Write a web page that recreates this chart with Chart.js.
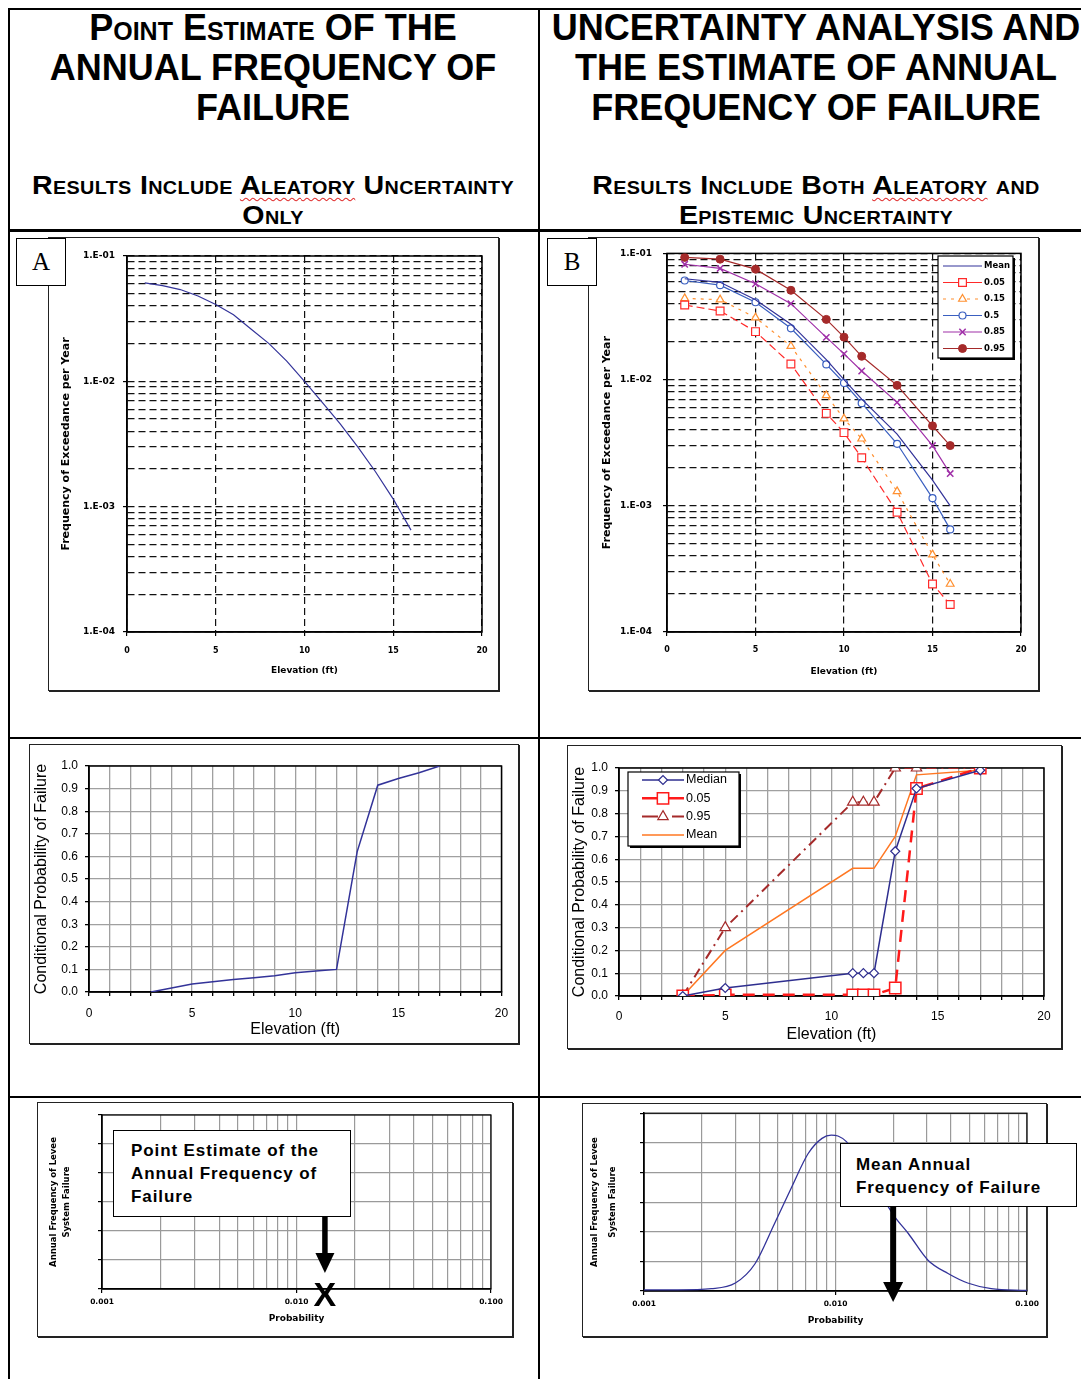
<!DOCTYPE html>
<html>
<head>
<meta charset="utf-8">
<script src="https://cdn.jsdelivr.net/npm/chart.js@4.4.1/dist/chart.umd.min.js"></script>
<style>
  html, body { margin: 0; padding: 0; background: #fff; }
  body { position: relative; width: 1081px; height: 1379px; overflow: hidden; font-family: "Liberation Sans", Arial, sans-serif; color: #000; }
  .rule { position: absolute; background: #000; }
  .head { position: absolute; text-align: center; font-weight: bold; white-space: nowrap; }
  .big { top: 8px; font-size: 36px; line-height: 40px; letter-spacing: 0; }
  .sub { top: 170px; font-size: 26px; line-height: 30px; font-variant: small-caps; letter-spacing: 0.3px; transform: scaleX(1.1); transform-origin: center; }
  .sc { font-variant: small-caps; }
  .wavy { text-decoration: underline wavy #e03030; text-decoration-thickness: 1px; text-underline-offset: 3px; }
  .panel { position: absolute; box-sizing: border-box; border: 1.5px solid #222; box-shadow: 1px 1px 0 #222; }
  canvas { position: absolute; }
  .tag { position: absolute; box-sizing: border-box; width: 50px; height: 48px; border: 1.5px solid #000; background: #fff; font-family: "Liberation Serif", serif; font-size: 25px; line-height: 46px; text-align: center; }
  .note { position: absolute; box-sizing: border-box; border: 1.5px solid #000; background: #fff; font-weight: bold; font-size: 17px; line-height: 23px; white-space: nowrap; letter-spacing: 0.9px; }
</style>
</head>
<body>
<div class="rule" style="left:8px;top:8px;width:1073px;height:1.5px"></div>
<div class="rule" style="left:8px;top:8px;width:1.5px;height:1371px"></div>
<div class="rule" style="left:538px;top:8px;width:1.5px;height:1371px"></div>
<div class="rule" style="left:8px;top:229px;width:1073px;height:2.5px"></div>
<div class="rule" style="left:8px;top:737px;width:1073px;height:1.5px"></div>
<div class="rule" style="left:8px;top:1096px;width:1073px;height:1.5px"></div>

<div class="head big" style="left:8px;width:530px"><span class="sc">Point Estimate</span> OF THE<br>ANNUAL FREQUENCY OF<br>FAILURE</div>
<div class="head big" style="left:539px;width:554px">UNCERTAINTY ANALYSIS AND<br>THE ESTIMATE OF ANNUAL<br>FREQUENCY OF FAILURE</div>
<div class="head sub" style="left:8px;width:530px">Results Include <span class="wavy">Aleatory</span> Uncertainty<br>Only</div>
<div class="head sub" style="left:539px;width:554px">Results Include Both <span class="wavy">Aleatory</span> and<br>Epistemic Uncertainty</div>

<div class="panel" style="left:48px;top:237px;width:451px;height:454px"></div>
<canvas id="chartA" width="451" height="453" style="left:48px;top:237px"></canvas>
<div class="tag" style="left:16px;top:238px">A</div>

<div class="panel" style="left:588px;top:237px;width:451px;height:454px"></div>
<canvas id="chartB" width="451" height="453" style="left:588px;top:237px"></canvas>
<div class="tag" style="left:547px;top:238px">B</div>

<div class="panel" style="left:29px;top:744px;width:490px;height:300px"></div>
<canvas id="chartC" width="490" height="300" style="left:29px;top:744px"></canvas>

<div class="panel" style="left:567px;top:745px;width:495px;height:304px"></div>
<canvas id="chartD" width="495" height="303" style="left:567px;top:745px"></canvas>

<div class="panel" style="left:37px;top:1102px;width:476px;height:235px"></div>
<canvas id="chartE" width="476" height="235" style="left:37px;top:1102px"></canvas>
<div class="note" style="left:113px;top:1130px;width:238px;height:87px;padding:8px 0 0 17px">Point Estimate of the<br>Annual Frequency of<br>Failure</div>

<div class="panel" style="left:582px;top:1103px;width:465px;height:234px"></div>
<canvas id="chartF" width="465" height="234" style="left:582px;top:1103px"></canvas>
<div class="note" style="left:840px;top:1143px;width:237px;height:64px;padding:9px 0 0 15px">Mean Annual<br>Frequency of Failure</div>

<script>
// ---- data ----
// A: point estimate of exceedance frequency
var aElev = [1, 2, 3, 4, 5, 6, 7, 8, 9, 10, 11, 12, 13, 14, 15, 16];
var aFreq = [0.061, 0.058, 0.054, 0.048, 0.041, 0.034, 0.026, 0.020, 0.0145, 0.0100, 0.0068, 0.0046, 0.0030, 0.0019, 0.00115, 0.00065];

// B: percentiles of exceedance frequency
var bElev = [1, 3, 5, 7, 9, 10, 11, 13, 15, 16];
var bLabels = ['Mean', '0.05', '0.15', '0.5', '0.85', '0.95'];
var bMean = [0.063, 0.059, 0.043, 0.0275, 0.0144, 0.0100, 0.0070, 0.0037, 0.0016, 0.0010];
var b05 = [0.039, 0.035, 0.024, 0.0133, 0.0054, 0.0038, 0.0024, 0.00089, 0.00024, 0.000165];
var b15 = [0.044, 0.043, 0.031, 0.0184, 0.0075, 0.0049, 0.0034, 0.0013, 0.00041, 0.00024];
var b50 = [0.061, 0.056, 0.041, 0.0255, 0.0132, 0.0094, 0.0065, 0.0031, 0.00115, 0.00065];
var b85 = [0.082, 0.076, 0.0575, 0.040, 0.0216, 0.016, 0.0117, 0.0066, 0.0030, 0.0018];
var b95 = [0.093, 0.090, 0.075, 0.051, 0.030, 0.0217, 0.0153, 0.0090, 0.0043, 0.0030];

// C: fragility curve
var cElev = [3, 5, 6, 7, 8, 9, 10, 11, 12, 13, 14, 15, 16, 17];
var cProb = [0, 0.035, 0.045, 0.055, 0.063, 0.072, 0.085, 0.093, 0.10, 0.62, 0.915, 0.945, 0.97, 1.0];

// D: fragility percentiles
var dElev = [3, 5, 11, 11.5, 12, 13, 14, 17];
var dLabels = ['Median', '0.05', '0.95', 'Mean'];
var dMedian = [0, 0.035, 0.10, 0.10, 0.10, 0.635, 0.91, 0.99];
var d05 = [0, 0.005, 0.005, 0.005, 0.005, 0.035, 0.91, 1.0];
var d95 = [0, 0.30, 0.85, 0.85, 0.85, 1.0, 1.0, 1.0];
var dMean = [0, 0.20, 0.56, 0.56, 0.56, 0.70, 0.97, 0.99];

// E/F: annual frequency of levee system failure
var probTicks = [0.001, 0.01, 0.1];
var pointEstimate = 0.014;
var meanFrequency = 0.02;
var fProb = [0.001, 0.0015, 0.00225, 0.003, 0.0038, 0.0048, 0.0059, 0.0072, 0.0085, 0.0095, 0.0103, 0.0114, 0.0137, 0.0167, 0.0204, 0.024, 0.0304, 0.0387, 0.049, 0.065, 0.1];
var fDensity = [0.04, 0.04, 0.08, 0.27, 0.92, 2.27, 3.5, 4.64, 5.15, 5.26, 5.23, 5.04, 4.3, 3.4, 2.5, 1.94, 1.04, 0.59, 0.27, 0.08, 0.02];

function xy(xs, ys) {
    return xs.map(function(x, i) { return { x: x, y: ys[i] }; });
}
function isMajor(v) {
    var l = Math.log10(v);
    return Math.abs(l - Math.round(l)) < 1e-6;
}
function logTicks(min, max) {
    var out = [];
    for (var e = Math.round(Math.log10(min)); e < Math.round(Math.log10(max)); e++) {
        for (var m = 1; m < 10; m++) out.push({ value: m * Math.pow(10, e) });
    }
    out.push({ value: max });
    return out;
}

// ── plugins ──
var frame = {
    id: 'frame',
    beforeDatasetsDraw: function(chart, args, o) {
        var a = chart.chartArea, ctx = chart.ctx;
        ctx.save();
        ctx.strokeStyle = o.color || '#000';
        ctx.lineWidth = o.width || 1.5;
        ctx.strokeRect(a.left, a.top, a.right - a.left, a.bottom - a.top);
        ctx.restore();
    }
};

var keyBox = {
    id: 'keyBox',
    afterDraw: function(chart, args, o) {
        if (!o || !o.box) return;
        var ctx = chart.ctx, b = o.box;
        ctx.save();
        ctx.fillStyle = '#000';
        ctx.fillRect(b[0] + 2, b[1] + 2, b[2], b[3]);
        ctx.fillStyle = '#fff';
        ctx.fillRect(b[0], b[1], b[2], b[3]);
        ctx.strokeStyle = '#000';
        ctx.lineWidth = 1.2;
        ctx.strokeRect(b[0], b[1], b[2], b[3]);
        ctx.font = o.font;
        ctx.textBaseline = 'middle';
        ctx.textAlign = 'left';
        chart.data.datasets.forEach(function(ds, i) {
            var cy = b[1] + o.first + i * o.step;
            var x0 = b[0] + o.line[0], x1 = b[0] + o.line[1];
            ctx.strokeStyle = ds.borderColor;
            ctx.lineWidth = ds.borderWidth;
            ctx.setLineDash(ds.keyDash || []);
            ctx.beginPath(); ctx.moveTo(x0, cy); ctx.lineTo(x1, cy); ctx.stroke();
            ctx.setLineDash([]);
            if (ds.pointRadius) {
                ctx.fillStyle = ds.pointBackgroundColor;
                ctx.strokeStyle = ds.borderColor;
                ctx.lineWidth = ds.pointBorderWidth || 1;
                Chart.helpers.drawPoint(ctx, { pointStyle: ds.pointStyle, radius: ds.pointRadius, rotation: 0, borderWidth: ds.pointBorderWidth || 1 }, (x0 + x1) / 2, cy);
            }
            ctx.fillStyle = '#000';
            ctx.fillText(ds.label, b[0] + o.text, cy);
        });
        ctx.restore();
    }
};

var pointer = {
    id: 'pointer',
    afterDraw: function(chart, args, o) {
        if (!o || o.value == null) return;
        var ctx = chart.ctx;
        var x = chart.scales.x.getPixelForValue(o.value);
        ctx.save();
        ctx.fillStyle = '#000';
        ctx.fillRect(x - o.shaft / 2, o.from, o.shaft, o.to - o.head - o.from + 1);
        ctx.beginPath();
        ctx.moveTo(x - o.headWidth / 2, o.to - o.head);
        ctx.lineTo(x + o.headWidth / 2, o.to - o.head);
        ctx.lineTo(x, o.to);
        ctx.closePath();
        ctx.fill();
        if (o.mark) {
            ctx.font = o.markFont;
            ctx.textAlign = 'center';
            ctx.textBaseline = 'middle';
            ctx.fillText(o.mark, x, o.markY);
        }
        ctx.restore();
    }
};

Chart.defaults.font.family = '"Liberation Sans", Arial, sans-serif';
Chart.defaults.color = '#000';

function baseOptions(pad, scales, extra) {
    var plugins = { legend: { display: false }, tooltip: { enabled: false }, frame: { color: '#000', width: 1.5 } };
    for (var k in extra) plugins[k] = extra[k];
    return {
        responsive: false,
        animation: false,
        devicePixelRatio: 1,
        events: [],
        layout: { padding: pad },
        plugins: plugins,
        scales: scales
    };
}

// ── A / B: exceedance frequency on log axis ──
var tinyBold = function(size) { return { family: '"DejaVu Sans", sans-serif', size: size, weight: 'bold' }; };

function freqScales(o) {
    return {
        x: {
            type: 'linear', min: 0, max: 20,
            ticks: { stepSize: 5, maxRotation: 0, font: tinyBold(8), color: '#000', padding: o.xtp },
            grid: { color: '#111', lineWidth: 1.2, tickLength: 4, tickColor: '#000' },
            border: { color: '#000', width: 1.5, dash: [7, 4] },
            title: { display: true, text: 'Elevation (ft)', font: tinyBold(9), color: '#000', padding: { top: 0, bottom: o.xtb } },
            afterFit: function(s) { s.height = 50; }
        },
        y: {
            type: 'logarithmic', min: 1e-4, max: 1e-1,
            afterBuildTicks: function(s) { s.ticks = logTicks(1e-4, 1e-1); },
            ticks: {
                autoSkip: false, font: tinyBold(9), color: '#000', padding: o.ytp,
                callback: function(v) { return isMajor(v) ? '1.E-0' + (-Math.round(Math.log10(v))) : ''; }
            },
            grid: { color: '#111', lineWidth: 1.2, tickLength: 4,
                tickColor: function(c) { return c.tick && isMajor(c.tick.value) ? '#000' : 'rgba(0,0,0,0)'; } },
            border: { color: '#000', width: 1.5, dash: [7, 4] },
            title: { display: true, text: 'Frequency of Exceedance per Year', font: tinyBold(11), color: '#000', padding: { top: o.ytt, bottom: 0 } },
            afterFit: function(s) { s.width = 79; }
        }
    };
}

new Chart(document.getElementById('chartA'), {
    type: 'line',
    data: { datasets: [{ label: 'Point estimate', data: xy(aElev, aFreq), borderColor: '#333399', borderWidth: 1.2, pointRadius: 0 }] },
    options: baseOptions({ left: 0, right: 17, top: 19, bottom: 8 }, freqScales({ xtp: 10, xtb: 5.6, ytp: 8, ytt: 11.4 }), {}),
    plugins: [frame]
});

new Chart(document.getElementById('chartB'), {
    type: 'line',
    data: {
        datasets: [
            { label: bLabels[0], data: xy(bElev, bMean), borderColor: '#333399', borderWidth: 1.2, pointRadius: 0 },
            { label: bLabels[1], data: xy(bElev, b05), borderColor: '#ff2a2a', borderWidth: 1.2, borderDash: [8, 4],
              pointStyle: 'rect', pointRadius: 5.5, pointBorderWidth: 1.2, pointBackgroundColor: '#fff', pointBorderColor: '#ff2a2a' },
            { label: bLabels[2], data: xy(bElev, b15), borderColor: '#ff9030', borderWidth: 1.2, borderDash: [3, 5], keyDash: [3, 5],
              pointStyle: 'triangle', pointRadius: 4.5, pointBorderWidth: 1.2, pointBackgroundColor: '#fff', pointBorderColor: '#ff9030' },
            { label: bLabels[3], data: xy(bElev, b50), borderColor: '#3a5fc0', borderWidth: 1.2,
              pointStyle: 'circle', pointRadius: 3.5, pointBorderWidth: 1.2, pointBackgroundColor: '#fff', pointBorderColor: '#3a5fc0' },
            { label: bLabels[4], data: xy(bElev, b85), borderColor: '#a030a8', borderWidth: 1.2,
              pointStyle: 'crossRot', pointRadius: 4.5, pointBorderWidth: 1.5, pointBackgroundColor: '#a030a8', pointBorderColor: '#a030a8' },
            { label: bLabels[5], data: xy(bElev, b95), borderColor: '#a52a2a', borderWidth: 1.2,
              pointStyle: 'circle', pointRadius: 4, pointBorderWidth: 1, pointBackgroundColor: '#a52a2a', pointBorderColor: '#a52a2a' }
        ]
    },
    options: baseOptions({ left: 0, right: 18, top: 12, bottom: 8 }, freqScales({ xtp: 9.2, xtb: 4.9, ytp: 11, ytt: 12.1 }), {
        keyBox: { box: [350, 19, 75, 102], first: 10, step: 16.5, line: [5, 44], text: 46, font: 'bold 8.5px "DejaVu Sans", sans-serif' }
    }),
    plugins: [frame, keyBox]
});

// ── C / D: conditional probability of failure ──
function probScales(o) {
    var grid = { color: '#a0a0a0', lineWidth: 1.3, tickLength: 4, tickColor: '#000' };
    return {
        x: {
            type: 'linear', min: 0, max: 20,
            ticks: { stepSize: 1, autoSkip: false, maxRotation: 0, font: { size: 12 }, color: '#000', padding: o.xtp,
                callback: function(v) { return v % 5 === 0 ? String(v) : ''; } },
            grid: grid,
            border: { color: '#000', width: 1.5 },
            title: { display: true, text: 'Elevation (ft)', font: { size: 16 }, color: '#000', padding: { top: 0, bottom: o.xtb } },
            afterFit: function(s) { s.height = 52; }
        },
        y: {
            min: 0, max: 1,
            ticks: { stepSize: 0.1, font: { size: 12 }, color: '#000', padding: 7,
                callback: function(v) { return v.toFixed(1); } },
            grid: grid,
            border: { color: '#000', width: 1.5 },
            title: { display: true, text: 'Conditional Probability of Failure', font: { size: 16 }, color: '#000', padding: { top: o.ytt, bottom: 0 } },
            afterFit: function(s) { s.width = o.yw; }
        }
    };
}

new Chart(document.getElementById('chartC'), {
    type: 'line',
    data: { datasets: [{ label: 'Fragility', data: xy(cElev, cProb), borderColor: '#333399', borderWidth: 1.5, pointRadius: 0 }] },
    options: baseOptions({ left: 0, right: 9, top: 22, bottom: 0 }, probScales({ xtp: 10.8, xtb: 5.1, ytt: 3.1, yw: 60 }), {}),
    plugins: [frame]
});

new Chart(document.getElementById('chartD'), {
    type: 'line',
    data: {
        datasets: [
            { label: dLabels[0], data: xy(dElev, dMedian), borderColor: '#2e2e8f', borderWidth: 1.5,
              pointStyle: 'rectRot', pointRadius: 4.5, pointBorderWidth: 1.2, pointBackgroundColor: '#fff', pointBorderColor: '#2e2e8f' },
            { label: dLabels[1], data: xy(dElev, d05), borderColor: '#ff1a1a', borderWidth: 2.5, borderDash: [12, 8],
              pointStyle: 'rect', pointRadius: 8, pointBorderWidth: 1.5, pointBackgroundColor: '#fff', pointBorderColor: '#ff1a1a' },
            { label: dLabels[2], data: xy(dElev, d95), borderColor: '#a52a2a', borderWidth: 2, borderDash: [10, 5, 2, 5], keyDash: [16, 6, 2, 6],
              pointStyle: 'triangle', pointRadius: 6, pointBorderWidth: 1.2, pointBackgroundColor: '#fff', pointBorderColor: '#a52a2a' },
            { label: dLabels[3], data: xy(dElev, dMean), borderColor: '#ff7722', borderWidth: 1.5, pointRadius: 0 }
        ]
    },
    options: baseOptions({ left: 0, right: 18, top: 23, bottom: 0 }, probScales({ xtp: 9.5, xtb: 3.4, ytt: 3.4, yw: 52 }), {
        keyBox: { box: [61, 27, 111, 74], first: 8, step: 18.3, line: [14, 56], text: 58, font: '12.5px "Liberation Sans", Arial, sans-serif' }
    }),
    plugins: [frame, keyBox]
});

// ── E / F: annual frequency of levee system failure ──
function annualScales(o) {
    return {
        x: {
            type: 'logarithmic', min: 0.001, max: 0.1,
            afterBuildTicks: function(s) { s.ticks = logTicks(0.001, 0.1); },
            ticks: { autoSkip: false, maxRotation: 0, font: tinyBold(7.5), color: '#000', padding: 4.5,
                callback: function(v) { return probTicks.some(function(t) { return Math.abs(t - v) < 1e-9; }) ? v.toFixed(3) : ''; } },
            grid: { color: '#9a9a9a', lineWidth: 1.2, tickLength: 4,
                tickColor: function(c) { return c.tick && isMajor(c.tick.value) ? '#000' : 'rgba(0,0,0,0)'; } },
            border: { color: '#000', width: 1.5 },
            title: { display: true, text: 'Probability', font: tinyBold(9), color: '#000', padding: { top: 0, bottom: o.xtb } },
            afterFit: function(s) { s.height = o.xh; }
        },
        y: {
            min: 0, max: 6,
            ticks: { stepSize: 1, callback: function() { return ''; } },
            grid: { color: '#9a9a9a', lineWidth: 1.2, tickLength: 4, tickColor: '#000' },
            border: { color: '#000', width: 1.5 },
            title: { display: true, text: ['Annual Frequency of Levee', 'System Failure'],
                font: { family: '"DejaVu Sans", sans-serif', size: 8.5, weight: 'bold', lineHeight: o.ylh }, color: '#000',
                padding: { top: o.ytt, bottom: 0 } },
            afterFit: function(s) { s.width = o.yw; }
        }
    };
}

new Chart(document.getElementById('chartE'), {
    type: 'line',
    data: { datasets: [{ label: 'Point estimate', data: [{ x: pointEstimate, y: 0 }], showLine: false, pointRadius: 0 }] },
    options: baseOptions({ left: 0, right: 22, top: 13, bottom: 0 }, annualScales({ xtb: 12.6, xh: 48, ylh: 13.4 / 8.5, ytt: 9.6, yw: 65 }), {
        frame: { color: '#000', width: 1.2 },
        pointer: { value: pointEstimate, from: 115, to: 171, head: 20, headWidth: 19, shaft: 5.5,
                   mark: 'X', markY: 195, markFont: 'bold 34px "Liberation Sans", Arial, sans-serif' }
    }),
    plugins: [frame, pointer]
});

new Chart(document.getElementById('chartF'), {
    type: 'line',
    data: { datasets: [{ label: 'Distribution', data: xy(fProb, fDensity), borderColor: '#333399', borderWidth: 1.3,
                         pointRadius: 0, cubicInterpolationMode: 'monotone' }] },
    options: baseOptions({ left: 0, right: 20, top: 10, bottom: 0 }, annualScales({ xtb: 10.9, xh: 46, ylh: 18 / 8.5, ytt: 3.3, yw: 62 }), {
        frame: { color: '#000', width: 1.2 },
        pointer: { value: meanFrequency, from: 104, to: 199, head: 20, headWidth: 20, shaft: 6 }
    }),
    plugins: [frame, pointer]
});
</script>
</body>
</html>
